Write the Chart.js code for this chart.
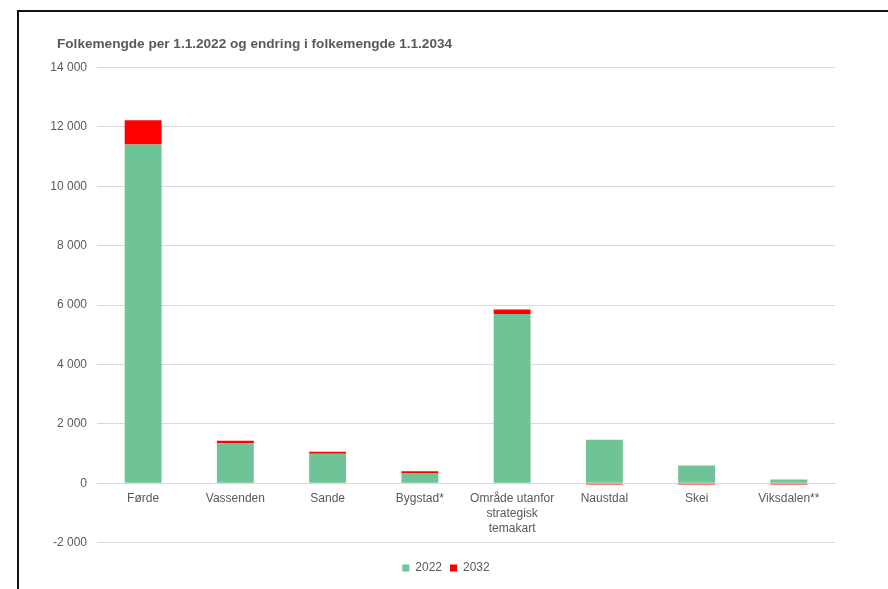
<!DOCTYPE html>
<html>
<head>
<meta charset="utf-8">
<script src="https://cdn.jsdelivr.net/npm/chart.js@4.4.1/dist/chart.umd.min.js"></script>
<style>
  html, body { margin: 0; padding: 0; background: #fff; overflow: hidden; }
  #wrap { position: relative; width: 888px; height: 589px; }
  #frame { position: absolute; left: 17px; top: 10px; width: 900px; height: 700px;
           border: 2px solid #111; box-sizing: border-box; pointer-events: none; }
</style>
</head>
<body>
<div id="wrap">
  <canvas id="chart" width="888" height="589"></canvas>
  <div id="frame"></div>
</div>
<script>
const categories = ['Førde', 'Vassenden', 'Sande', 'Bygstad*', ['Område utanfor', 'strategisk', 'temakart'], 'Naustdal', 'Skei', 'Viksdalen**']
const pop2022 = [11400, 1350, 1000, 350, 5700, 1470, 600, 130]
const change2032 = [820, 80, 60, 55, 150, -40, -40, -40]
const yTicks = [-2000, 0, 2000, 4000, 6000, 8000, 10000, 12000, 14000]

const grey = '#595959'
const font = 'Liberation Sans, Arial, sans-serif'

function fmt(v) {
  var s = String(Math.abs(v)).replace(/\B(?=(\d{3})+(?!\d))/g, ' ')
  return (v < 0 ? '-' : '') + s
}

// title and legend sit further right than the layout padding, nudge them
const boxShift = {
  id: 'boxShift',
  afterLayout(chart) {
    if (chart.titleBlock) chart.titleBlock.left = 57
    if (chart.legend) chart.legend.left = 57
  }
}

new Chart(document.getElementById('chart'), {
  type: 'bar',
  data: {
    labels: categories,
    datasets: [{
      label: '2022',
      data: pop2022,
      backgroundColor: '#6fc497',
      barPercentage: 0.4,
      categoryPercentage: 1
    }, {
      label: '2032',
      data: change2032,
      backgroundColor: '#ff0000',
      barPercentage: 0.4,
      categoryPercentage: 1
    }]
  },
  plugins: [boxShift],
  options: {
    responsive: false,
    animation: false,
    layout: { padding: { left: 30, right: 53, top: 36, bottom: 5 } },
    scales: {
      x: {
        stacked: true,
        position: { y: 0 },
        grid: { display: false },
        border: { color: '#d9d9d9' },
        ticks: { color: grey, font: { family: font, size: 12, lineHeight: 1.25 }, maxRotation: 0, padding: 0 }
      },
      y: {
        stacked: true,
        min: -2000,
        max: 14000,
        afterBuildTicks: function (scale) {
          scale.ticks = yTicks.map(function (v) { return { value: v } })
        },
        afterFit: function (scale) { scale.width = 67 },
        grid: { color: '#d9d9d9', drawTicks: false },
        border: { display: false },
        ticks: { color: grey, font: { family: font, size: 12 }, padding: 10, callback: fmt }
      }
    },
    plugins: {
      title: {
        display: true,
        text: 'Folkemengde per 1.1.2022 og endring i folkemengde 1.1.2034',
        align: 'start',
        color: grey,
        font: { family: font, size: 13.6, weight: 'bold' },
        padding: { top: 0, bottom: 15 }
      },
      legend: {
        position: 'bottom',
        title: { display: true, text: '', font: { size: 1 }, padding: { top: 0, bottom: 10 } },
        labels: {
          color: grey,
          font: { family: font, size: 12 },
          boxWidth: 7,
          boxHeight: 7,
          padding: 8
        }
      },
      tooltip: { enabled: false }
    }
  }
})
</script>
</body>
</html>
